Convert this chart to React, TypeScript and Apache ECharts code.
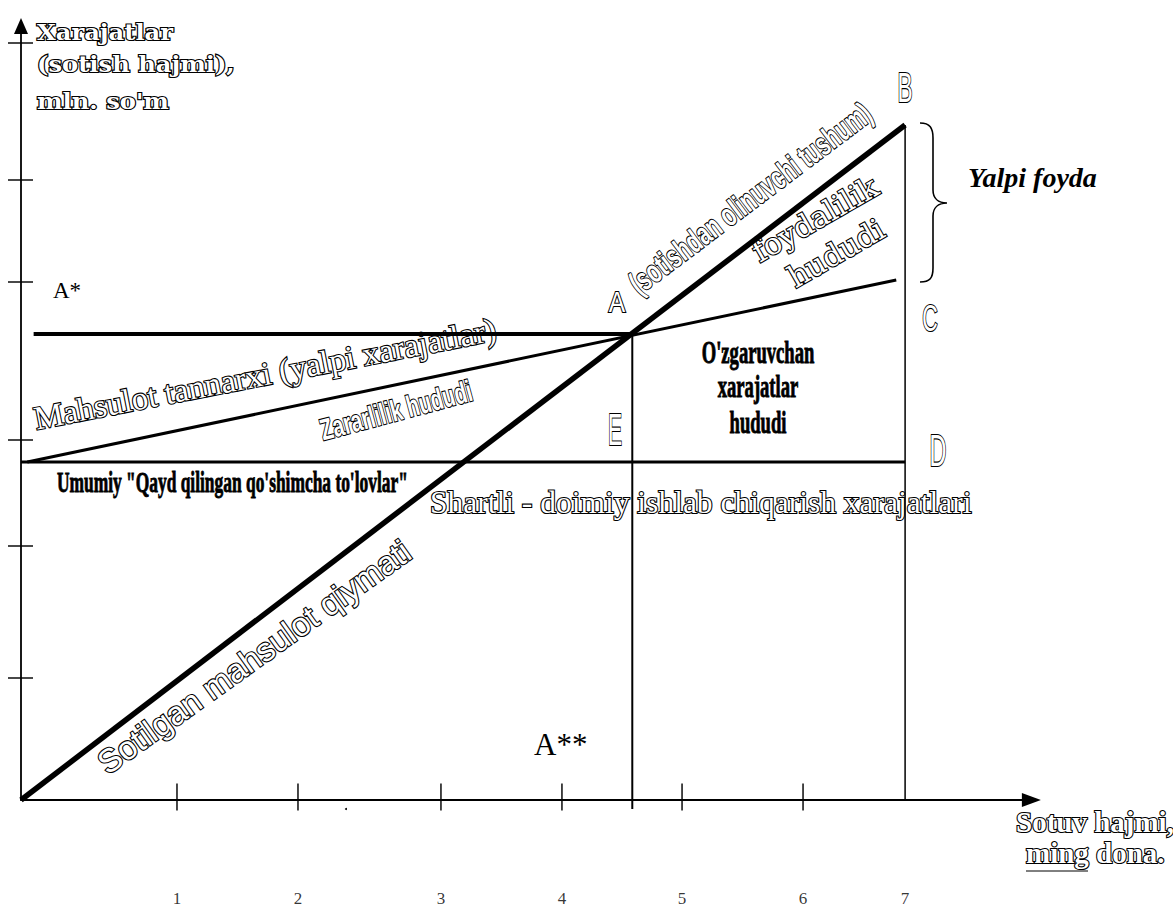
import React, { useEffect, useRef } from "react";
import * as echarts from "echarts";

// ---- data (chart units: x = ming dona, y = mln. so'm) ----
const X_MAX = 8;
const Y_MAX = 7.74;

const revenueLine = [[0, 0], [7, 6.75]];
const fixedCostLine = [[0, 3.38], [7, 3.38]];
const totalCostLine = [[0.05, 3.38], [6.93, 5.2]];
const breakEvenLevel = [[0.1, 4.66], [4.84, 4.66]];
const breakEvenDrop = [[4.84, -0.09], [4.84, 4.66]];
const maxVolumeDrop = [[7, 0], [7, 6.75]];

const xTickPos = [1.235, 2.193, 3.325, 4.283, 5.234, 6.192];
const xLabelPos = [1.235, 2.193, 3.325, 4.283, 5.234, 6.192, 7.0];
const xTickLabels = ["1", "2", "3", "4", "5", "6", "7"];
const yTickPos = [1.22, 2.54, 3.6, 5.18, 6.2, 7.57];

const yTitle = ["Xarajatlar", "(sotish hajmi),", "mln. so'm"];
const xTitle = ["Sotuv hajmi,", "ming dona."];

const BRACE_D =
  "M920,123 C930,123 933,128 933,138 L933,190 C933,198 938,203 947,203 C938,203 933,208 933,216 L933,268 C933,278 930,282 920,282";
echarts.graphic.registerShape("brace", echarts.graphic.extendPath(BRACE_D, {}));

const deg = (d: number) => (d * Math.PI) / 180;
const OUT = { fill: "#fff", stroke: "#000", lineWidth: 2.2 };
const SOLID = { fill: "#000" };
const HEAVY = { fill: "#000", stroke: "#000", lineWidth: 0.9 };

type FontSpec = { family: string; size: number; weight?: string; style?: string };
const SERIF = "Liberation Serif";
const SANS = "Liberation Sans";
const DJSERIF = "DejaVu Serif";

function txt(text: string, x: number, y: number, f: FontSpec, paint: any, extra: any = {}) {
  const { align = "center", rotation = 0, scaleX = 1, scaleY = 1 } = extra;
  return {
    type: "text",
    x,
    y,
    rotation,
    scaleX,
    scaleY,
    silent: true,
    style: {
      text,
      fontFamily: f.family,
      fontSize: f.size,
      fontWeight: f.weight || "normal",
      fontStyle: f.style || "normal",
      align,
      verticalAlign: "middle",
      ...paint,
    },
  };
}

function lineSeries(data: number[][], width: number) {
  return {
    type: "line",
    data,
    symbol: "none",
    silent: true,
    clip: false,
    lineStyle: { color: "#000", width, cap: "butt" },
  };
}

export default function App() {
  const ref = useRef<HTMLDivElement>(null);
  useEffect(() => {
    if (!ref.current) return;
    const chart = echarts.init(ref.current, undefined, { renderer: "svg" });
    const graphic: any[] = [
      // y title
      ...yTitle.map((t, i) =>
        txt(t, 37, [32.4, 64.4, 101.4][i], { family: DJSERIF, size: 22, weight: "bold" }, OUT, {
          align: "left",
          scaleX: 1.1,
        })
      ),
      // x title
      txt(xTitle[0], 1016, 822, { family: SERIF, size: 29, weight: "bold" }, OUT, { align: "left" }),
      txt(xTitle[1], 1026, 853, { family: SERIF, size: 29, weight: "bold" }, OUT, { align: "left" }),
      {
        type: "line",
        silent: true,
        shape: { x1: 1026, y1: 871, x2: 1088, y2: 871 },
        style: { stroke: "#000", lineWidth: 1 },
      },
      txt("Yalpi foyda", 968, 177, { family: SERIF, size: 28, weight: "bold", style: "italic" }, SOLID, {
        align: "left",
      }),
      // point letters
      txt("B", 905, 87, { family: SANS, size: 42 }, OUT, { scaleX: 0.54 }),
      txt("A", 617, 302, { family: SANS, size: 29 }, OUT, { scaleX: 0.85 }),
      txt("C", 930, 318, { family: SANS, size: 37 }, OUT, { scaleX: 0.58 }),
      txt("E", 615, 429, { family: SANS, size: 45 }, OUT, { scaleX: 0.47 }),
      txt("D", 938, 451, { family: SANS, size: 45 }, OUT, { scaleX: 0.52 }),
      txt("A*", 53, 290, { family: SERIF, size: 23 }, SOLID, { align: "left" }),
      txt("A**", 534, 744.5, { family: SERIF, size: 31 }, SOLID, { align: "left" }),
      // region / line captions
      txt(
        "(sotishdan olinuvchi tushum)",
        750,
        198,
        { family: SANS, size: 32, weight: "bold" },
        OUT,
        { rotation: deg(37), scaleX: 0.66 }
      ),
      txt("foydalilik", 815, 219, { family: DJSERIF, size: 30 }, OUT, { rotation: deg(30) }),
      txt("hududi", 836, 253, { family: DJSERIF, size: 30 }, OUT, { rotation: deg(30) }),
      txt("O'zgaruvchan", 758, 352.5, { family: SERIF, size: 31, weight: "bold" }, HEAVY, { scaleX: 0.6 }),
      txt("xarajatlar", 758, 386.5, { family: SERIF, size: 31, weight: "bold" }, HEAVY, { scaleX: 0.6 }),
      txt("hududi", 758, 422.5, { family: SERIF, size: 31, weight: "bold" }, HEAVY, { scaleX: 0.6 }),
      txt(
        "Mahsulot tannarxi (yalpi xarajatlar)",
        265,
        374,
        { family: SERIF, size: 33 },
        OUT,
        { rotation: deg(11) }
      ),
      txt("Zararlilik hududi", 396, 410, { family: SANS, size: 30, weight: "bold" }, OUT, {
        rotation: deg(15),
        scaleX: 0.67,
      }),
      txt(
        "Umumiy \"Qayd qilingan qo'shimcha to'lovlar\"",
        57,
        482,
        { family: SERIF, size: 30, weight: "bold" },
        HEAVY,
        { align: "left", scaleX: 0.58 }
      ),
      txt(
        "Shartli - doimiy ishlab chiqarish xarajatlari",
        430,
        502.4,
        { family: SERIF, size: 31.5 },
        OUT,
        { align: "left" }
      ),
      txt("Sotilgan mahsulot qiymati", 254, 657, { family: SANS, size: 33 }, OUT, {
        rotation: deg(35.5),
      }),
      {
        type: "circle",
        silent: true,
        shape: { cx: 346, cy: 809, r: 1 },
        style: { fill: "#000" },
      },
      {
        type: "brace",
        x: 0,
        y: 0,
        silent: true,
        style: { fill: "none", stroke: "#000", lineWidth: 1.6 },
      },
    ];

    chart.setOption({
      animation: false,
      backgroundColor: "#fff",
      grid: {
        left: 21,
        top: 26,
        right: 1173 - (21 + X_MAX * 126.3),
        bottom: 109,
        containLabel: false,
        outerBoundsMode: "none",
      },
      xAxis: {
        type: "value",
        min: 0,
        max: X_MAX,
        axisLine: {
          show: true,
          symbol: ["none", "triangle"],
          symbolSize: [14, 19],
          lineStyle: { color: "#000", width: 1.8 },
        },
        axisTick: { show: false },
        axisLabel: { show: false },
        splitLine: { show: false },
      },
      yAxis: {
        type: "value",
        min: 0,
        max: Y_MAX,
        axisLine: {
          show: true,
          symbol: ["none", "triangle"],
          symbolSize: [14, 16],
          lineStyle: { color: "#000", width: 1.8 },
        },
        axisTick: { show: false },
        axisLabel: { show: false },
        splitLine: { show: false },
      },
      series: [
        lineSeries(fixedCostLine, 3),
        lineSeries(totalCostLine, 3),
        lineSeries(breakEvenLevel, 4),
        lineSeries(breakEvenDrop, 2),
        lineSeries(maxVolumeDrop, 1.5),
        lineSeries(revenueLine, 5.5),
        {
          type: "scatter",
          silent: true,
          clip: false,
          symbol: "rect",
          symbolSize: [1.8, 27],
          symbolOffset: [0, -3],
          itemStyle: { color: "#000" },
          data: xTickPos.map((x) => [x, 0]),
        },
        {
          type: "scatter",
          silent: true,
          clip: false,
          symbol: "rect",
          symbolSize: [25, 1.8],
          symbolOffset: [-0.5, 0],
          itemStyle: { color: "#000" },
          data: yTickPos.map((y) => [0, y]),
        },
        {
          type: "scatter",
          silent: true,
          clip: false,
          symbolSize: 0,
          itemStyle: { color: "transparent" },
          data: xLabelPos.map((x) => [x, 0]),
          label: {
            show: true,
            position: "inside",
            offset: [0, 98],
            color: "#000",
            fontFamily: "Liberation Serif",
            fontSize: 17,
            formatter: (p: any) => xTickLabels[p.dataIndex],
          },
        },
      ],
      graphic,
    });
    return () => chart.dispose();
  }, []);
  return (
    <div
      ref={ref}
      style={{ position: "absolute", left: 0, top: 0, width: 1173, height: 909 }}
    />
  );
}
